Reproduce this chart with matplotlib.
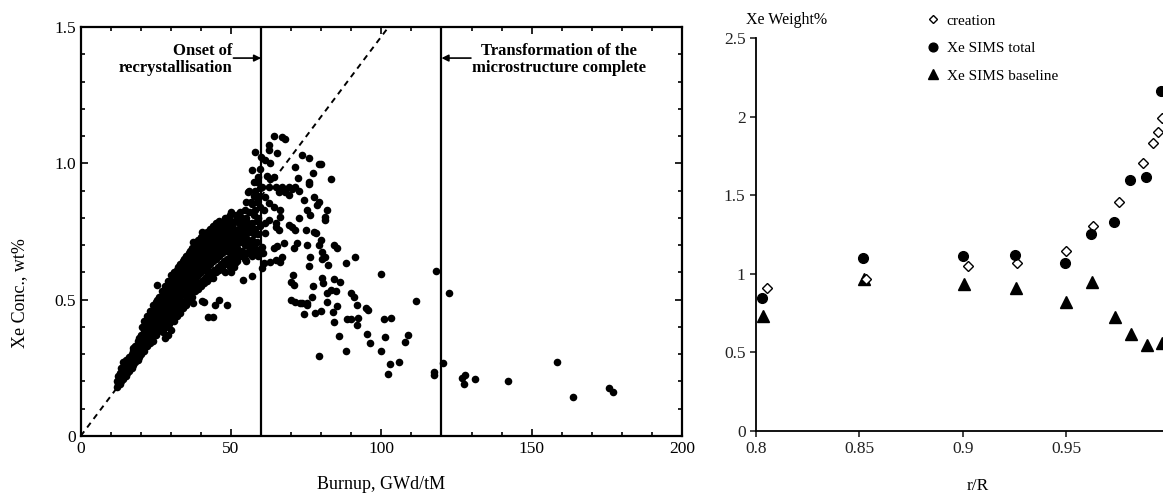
import matplotlib
matplotlib.use("Agg")
import matplotlib.pyplot as plt
from matplotlib.ticker import MultipleLocator, FixedLocator

plt.rcParams["font.family"] = ["Liberation Serif", "DejaVu Serif"]

# ==========================
# left panel: Xe conc. vs burnup
# ==========================
# dense band below the onset of recrystallisation: one burnup value, several Xe values
band_x = [12, 13, 14, 15, 16, 17, 18, 19, 20, 21, 22, 23, 24, 25, 26, 27, 28, 29, 30,
          31, 32, 33, 34, 35, 36, 37, 38, 39, 40, 41, 42, 43, 44, 45, 46, 47, 48, 49, 50,
          51, 52, 53, 54, 55, 56, 57, 58, 59]
band_y = [
    [0.18, 0.20], [0.19, 0.21, 0.23], [0.21, 0.24, 0.27], [0.22, 0.25, 0.28],
    [0.24, 0.26, 0.29], [0.25, 0.28, 0.30], [0.27, 0.30, 0.33], [0.28, 0.31, 0.35],
    [0.30, 0.33, 0.37], [0.31, 0.35, 0.39, 0.42], [0.33, 0.36, 0.40, 0.44],
    [0.34, 0.38, 0.42, 0.46], [0.35, 0.40, 0.44, 0.48], [0.37, 0.41, 0.45, 0.49],
    [0.39, 0.43, 0.47, 0.51], [0.40, 0.45, 0.49, 0.53], [0.36, 0.42, 0.46, 0.50, 0.55],
    [0.37, 0.44, 0.48, 0.52, 0.57], [0.39, 0.45, 0.50, 0.54, 0.59],
    [0.42, 0.47, 0.51, 0.56, 0.60], [0.44, 0.48, 0.53, 0.57, 0.61],
    [0.45, 0.50, 0.55, 0.59, 0.63], [0.47, 0.52, 0.56, 0.60, 0.64],
    [0.48, 0.53, 0.58, 0.62, 0.66], [0.50, 0.55, 0.59, 0.63, 0.67],
    [0.51, 0.56, 0.61, 0.65, 0.69], [0.53, 0.58, 0.62, 0.66, 0.70],
    [0.54, 0.59, 0.64, 0.68, 0.72], [0.55, 0.60, 0.65, 0.69, 0.73],
    [0.56, 0.61, 0.66, 0.70, 0.74], [0.57, 0.62, 0.67, 0.71, 0.75],
    [0.58, 0.63, 0.68, 0.72, 0.76], [0.58, 0.64, 0.69, 0.73, 0.77],
    [0.60, 0.65, 0.70, 0.74, 0.78], [0.61, 0.66, 0.70, 0.75, 0.79],
    [0.62, 0.67, 0.71, 0.76], [0.63, 0.68, 0.72, 0.77, 0.80], [0.64, 0.69, 0.73, 0.78],
    [0.60, 0.66, 0.70, 0.74, 0.79, 0.82], [0.62, 0.67, 0.72, 0.76],
    [0.64, 0.69, 0.74, 0.80], [0.66, 0.71, 0.76, 0.82], [0.67, 0.72, 0.78],
    [0.64, 0.70, 0.74, 0.80, 0.86], [0.68, 0.75, 0.82, 0.90], [0.66, 0.72, 0.78, 0.85, 0.975],
    [0.69, 0.76, 0.83, 0.90, 1.043], [0.66, 0.74, 0.80, 0.88, 0.95],
]
band2_x = [12.5, 13.5, 14.5, 15.5, 16.5, 17.5, 18.5, 19.5, 20.5, 21.5, 22.5, 23.5, 24.5,
           25.5, 26.5, 27.5, 28.5, 29.5, 30.5, 31.5, 32.5, 33.5, 34.5, 35.5, 36.5, 37.5,
           38.5, 39.5, 40.5, 41.5, 42.5, 43.5, 44.5, 45.5, 46.5, 47.5, 48.5, 49.5, 50.5,
           51.5, 52.5, 53.5, 54.5, 55.5, 56.5, 57.5, 58.5, 59.5]
band2_y = [
    [0.19, 0.22], [0.20, 0.25], [0.22, 0.26], [0.23, 0.27], [0.25, 0.29], [0.26, 0.31],
    [0.28, 0.32], [0.29, 0.34, 0.36], [0.32, 0.36, 0.40], [0.33, 0.37, 0.41],
    [0.34, 0.39, 0.43], [0.36, 0.40, 0.45], [0.37, 0.42, 0.47], [0.38, 0.43, 0.47, 0.50],
    [0.41, 0.45, 0.49], [0.38, 0.43, 0.47, 0.52], [0.40, 0.45, 0.49, 0.54],
    [0.41, 0.46, 0.51, 0.56], [0.43, 0.48, 0.52, 0.57], [0.45, 0.49, 0.54, 0.59],
    [0.46, 0.51, 0.56, 0.62], [0.48, 0.53, 0.57, 0.61], [0.49, 0.54, 0.59, 0.65],
    [0.51, 0.56, 0.60, 0.64], [0.52, 0.57, 0.62, 0.68], [0.54, 0.59, 0.63, 0.67, 0.71],
    [0.55, 0.60, 0.65, 0.69], [0.56, 0.62, 0.66, 0.71], [0.57, 0.63, 0.67, 0.72, 0.75],
    [0.58, 0.64, 0.68, 0.73], [0.59, 0.65, 0.69, 0.74], [0.60, 0.66, 0.70, 0.75],
    [0.61, 0.67, 0.72, 0.76], [0.62, 0.68, 0.72, 0.77], [0.63, 0.69, 0.73, 0.78],
    [0.64, 0.70, 0.74, 0.79], [0.65, 0.71, 0.75, 0.80], [0.62, 0.67, 0.72, 0.76, 0.81],
    [0.64, 0.69, 0.74, 0.78], [0.65, 0.70, 0.75, 0.81], [0.67, 0.72, 0.78],
    [0.68, 0.74, 0.80], [0.65, 0.70, 0.76, 0.83], [0.67, 0.72, 0.78, 0.896],
    [0.70, 0.77, 0.86], [0.68, 0.74, 0.81, 0.88, 0.933], [0.71, 0.79, 0.86, 0.93],
    [0.68, 0.77, 0.84, 0.91, 0.98],
]

# isolated points below the band
low_x = [17.5, 25.3, 37.5, 40.3, 40.9, 45.9, 44.8, 48.7, 42.5, 44.0, 48.1, 54.0, 57.0, 51.4]
low_y = [0.322, 0.554, 0.489, 0.495, 0.490, 0.499, 0.480, 0.480, 0.437, 0.437, 0.602, 0.572, 0.588, 0.635]

# points beyond 60 GWd/tM
high_x = [
    64.2, 67.0, 68.1, 62.5, 62.5, 65.3, 60.1, 61.4, 63.1, 73.7, 76.1, 71.2, 79.2, 79.8, 77.2,
    83.4, 72.3, 75.9, 76.1, 62.0, 63.1, 64.2, 60.3, 62.5, 64.8, 67.0, 69.2, 70.3, 71.4,
    65.9, 68.1, 69.2, 72.5, 74.2, 77.5, 79.2, 78.7, 82.0, 81.4, 81.1, 75.3, 76.4, 72.5,
    62.5, 64.2, 66.4, 66.4, 62.5, 64.8, 61.2, 60.9, 61.2, 61.4,
    64.8, 65.9, 69.2, 70.3, 71.4, 74.8, 77.5, 78.1,
    79.8, 79.4, 80.3, 81.4, 82.3, 84.2, 85.3, 75.3, 72.0, 70.9, 67.5, 65.3, 64.2,
    67.0, 64.8, 63.1, 66.4, 60.3, 60.6, 60.9, 60.3,
    76.4, 75.9, 80.3, 88.1, 91.4, 99.8,
    70.7, 69.8, 70.9, 77.2, 80.3, 80.7, 84.2, 86.4,
    81.8, 83.1, 84.8, 77.0, 89.8, 90.9, 69.8, 71.4, 73.1, 75.3, 82.0,
    73.7, 75.3, 74.2, 77.8, 80.0, 85.3, 83.9, 84.2, 92.0, 94.8, 95.5, 88.7, 90.0, 92.2, 91.8,
    85.9, 79.2, 88.4, 95.3, 96.2, 100.9, 103.3, 101.1, 99.8, 108.9, 108.0, 102.9, 105.9, 102.2,
    111.5, 117.5, 117.5, 120.4, 122.5, 118.1,
    126.8, 127.9, 127.5, 131.1, 142.0, 158.3, 163.7, 175.7, 177.1,
]
high_y = [
    1.101, 1.098, 1.089, 1.067, 1.049, 1.037, 1.024, 1.012, 1.002, 1.030, 1.018, 0.988, 0.996, 0.996, 0.966,
    0.944, 0.945, 0.933, 0.923, 0.953, 0.941, 0.951, 0.914, 0.914, 0.914, 0.914, 0.914, 0.905, 0.914,
    0.896, 0.896, 0.884, 0.900, 0.865, 0.875, 0.857, 0.847, 0.829, 0.804, 0.792, 0.829, 0.810, 0.798,
    0.853, 0.841, 0.829, 0.804, 0.792, 0.780, 0.878, 0.829, 0.780, 0.743,
    0.768, 0.755, 0.774, 0.768, 0.755, 0.755, 0.749, 0.743,
    0.719, 0.700, 0.676, 0.657, 0.627, 0.700, 0.688, 0.700, 0.707, 0.688, 0.707, 0.697, 0.688,
    0.657, 0.645, 0.639, 0.639, 0.694, 0.670, 0.633, 0.615,
    0.657, 0.624, 0.649, 0.633, 0.657, 0.594,
    0.590, 0.566, 0.554, 0.551, 0.578, 0.560, 0.575, 0.566,
    0.523, 0.535, 0.532, 0.511, 0.526, 0.511, 0.499, 0.493, 0.487, 0.487, 0.493,
    0.489, 0.480, 0.446, 0.450, 0.458, 0.477, 0.456, 0.419, 0.480, 0.468, 0.462, 0.428, 0.428, 0.432, 0.407,
    0.367, 0.293, 0.312, 0.373, 0.340, 0.428, 0.432, 0.362, 0.313, 0.369, 0.345, 0.263, 0.271, 0.226,
    0.496, 0.236, 0.222, 0.269, 0.523, 0.605,
    0.211, 0.224, 0.191, 0.209, 0.203, 0.272, 0.143, 0.177, 0.160,
]

FIT_SLOPE = 0.01465        # dashed creation line, wt% per GWd/tM
ONSET_BURNUP = 60
COMPLETE_BURNUP = 120

# ==========================
# right panel: Xe vs r/R
# ==========================
creation_r = [0.8052, 0.853, 0.9023, 0.9262, 0.950, 0.963, 0.9755, 0.9868, 0.9916, 0.9944, 0.996]
creation_xe = [0.908, 0.97, 1.052, 1.071, 1.145, 1.304, 1.459, 1.703, 1.834, 1.904, 1.989]
total_r = [0.8028, 0.8518, 0.9002, 0.9251, 0.9493, 0.9618, 0.9731, 0.9807, 0.9884, 0.9957]
total_xe = [0.844, 1.099, 1.113, 1.120, 1.067, 1.253, 1.331, 1.597, 1.618, 2.163]
base_r = [0.8035, 0.8523, 0.9006, 0.9256, 0.9496, 0.9622, 0.9735, 0.9812, 0.9887, 0.996]
base_xe = [0.732, 0.965, 0.933, 0.908, 0.823, 0.946, 0.723, 0.615, 0.547, 0.558]


def flatten(xs, ys):
    px, py = [], []
    for x, col in zip(xs, ys):
        for y in col:
            px.append(x)
            py.append(y)
    return px, py


fig = plt.figure(figsize=(11.63, 4.97), dpi=100)

# -------- left --------
ax = fig.add_axes([0.0694, 0.1227, 0.517, 0.823])
b1x, b1y = flatten(band_x, band_y)
b2x, b2y = flatten(band2_x, band2_y)
ax.scatter(b1x + b2x + low_x + high_x, b1y + b2y + low_y + high_y,
           s=30, c="black", linewidths=0, zorder=3)
x_end = 1.5 / FIT_SLOPE
ax.plot([0, x_end], [0, 1.5], color="black", linestyle=(0, (3, 2.5)), linewidth=1.4)
ax.axvline(ONSET_BURNUP, color="black", linewidth=1.6)
ax.axvline(COMPLETE_BURNUP, color="black", linewidth=1.6)

ax.set_xlim(0, 200)
ax.set_ylim(0, 1.5)
ax.xaxis.set_major_locator(MultipleLocator(50))
ax.xaxis.set_minor_locator(MultipleLocator(10))
ax.yaxis.set_major_locator(FixedLocator([0, 0.5, 1.0, 1.5]))
ax.yaxis.set_minor_locator(MultipleLocator(0.1))
ax.set_yticklabels(["0", "0.5", "1.0", "1.5"])
ax.tick_params(which="both", direction="in", top=True, right=True, labelsize=12.5, width=1.2)
ax.tick_params(which="major", length=5)
ax.tick_params(which="minor", length=3)
for s in ax.spines.values():
    s.set_linewidth(1.6)
ax.set_xlabel("Burnup, GWd/tM", fontsize=13, labelpad=14)
ax.set_ylabel("Xe Conc., wt%", fontsize=13)
ax.yaxis.set_label_coords(-0.088, 0.35)

ax.annotate("", xy=(ONSET_BURNUP, 1.386), xytext=(50.8, 1.386),
            arrowprops=dict(arrowstyle="-|>", color="black", lw=1.2, mutation_scale=10,
                            shrinkA=0, shrinkB=0))
ax.text(50.4, 1.38, "Onset of\nrecrystallisation", ha="right", va="center",
        multialignment="right", fontsize=12, fontweight="bold", linespacing=1.05)
ax.annotate("", xy=(COMPLETE_BURNUP, 1.386), xytext=(129.8, 1.386),
            arrowprops=dict(arrowstyle="-|>", color="black", lw=1.2, mutation_scale=10,
                            shrinkA=0, shrinkB=0))
ax.text(130.2, 1.38, "Transformation of the\nmicrostructure complete", ha="left", va="center",
        multialignment="center", fontsize=12, fontweight="bold", linespacing=1.05)

# -------- right --------
ax2 = fig.add_axes([0.650, 0.1328, 0.356, 0.7907])
ax2.plot(creation_r, creation_xe, linestyle="none", marker="D", markersize=5,
         markerfacecolor="white", markeredgecolor="black", markeredgewidth=1.0,
         label="creation", zorder=3)
ax2.plot(total_r, total_xe, linestyle="none", marker="o", markersize=7,
         color="black", label="Xe SIMS total", zorder=4)
ax2.plot(base_r, base_xe, linestyle="none", marker="^", markersize=8,
         color="black", label="Xe SIMS baseline", zorder=2)

ax2.set_xlim(0.8, 1.0)
ax2.set_ylim(0, 2.5)
ax2.set_xticks([0.8, 0.85, 0.9, 0.95, 1.0])
ax2.set_xticklabels(["0.8", "0.85", "0.9", "0.95", ""])
ax2.set_yticks([0, 0.5, 1, 1.5, 2, 2.5])
ax2.set_yticklabels(["0", "0.5", "1", "1.5", "2", "2.5"])
ax2.spines["top"].set_visible(False)
ax2.spines["right"].set_visible(False)
ax2.spines["left"].set_linewidth(1.3)
ax2.spines["bottom"].set_linewidth(1.3)
ax2.tick_params(direction="out", length=4, width=1.2, labelsize=12.5, colors="#222222")
ax2.set_xlabel("r/R", fontsize=12.5)
ax2.xaxis.set_label_coords(0.535, -0.12)
ax2.legend(loc="upper left", bbox_to_anchor=(927 / 1163, 1 - 14 / 497),
           bbox_transform=fig.transFigure, frameon=False, fontsize=11,
           handlelength=0.8, handletextpad=0.5, labelspacing=0.9,
           borderpad=0, borderaxespad=0, markerscale=0.9)
fig.text(787 / 1163, 1 - 20 / 497, "Xe Weight%", ha="center", va="center", fontsize=11.5)

fig.savefig("out.png", dpi=100)
